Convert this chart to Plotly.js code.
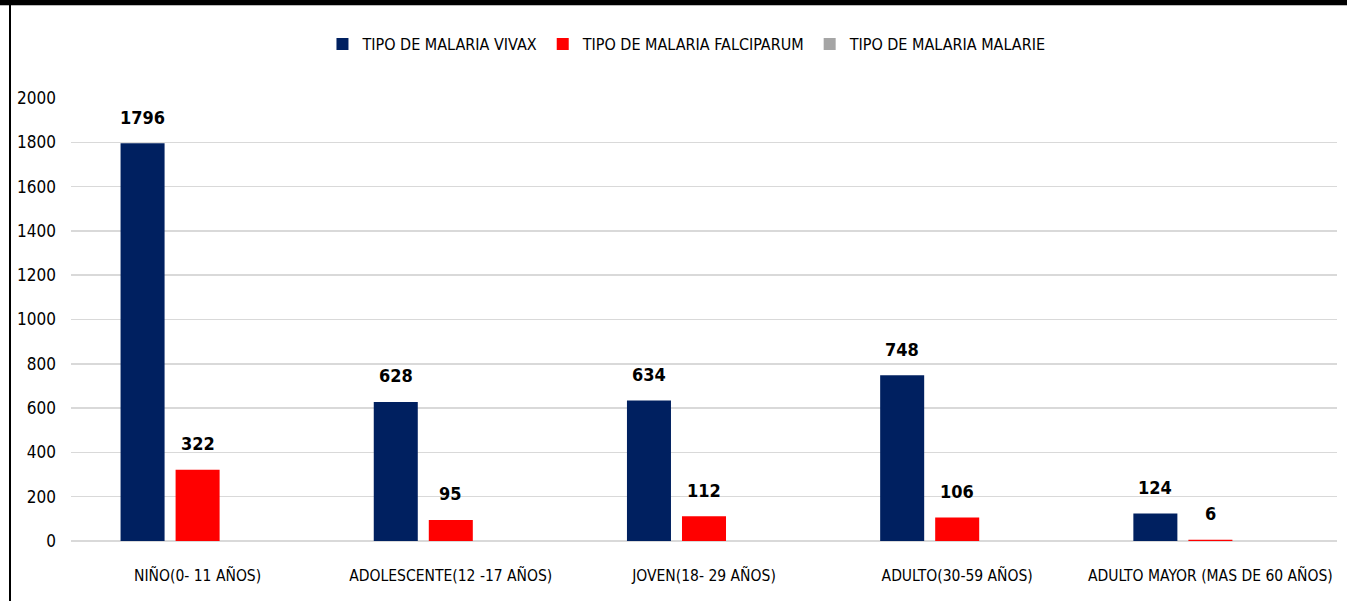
<!DOCTYPE html>
<html>
<head>
<meta charset="utf-8">
<script src="https://cdn.plot.ly/plotly-3.0.1.min.js"></script>
<style>
  html, body { margin: 0; padding: 0; background: #fff; }
  #wrap { position: relative; width: 1347px; height: 601px; overflow: hidden; }
  #chart { position: absolute; left: 0; top: 0; width: 1347px; height: 601px; }
  #topbar { position: absolute; left: 0; top: 0; width: 1347px; height: 5px; background: #000; }
  #topline { position: absolute; left: 0; top: 5px; width: 1347px; height: 1px; background: #bbb; }
  #leftline { position: absolute; left: 9px; top: 0; width: 2px; height: 601px; background: #000; }
</style>
</head>
<body>
<div id="wrap">
  <div id="chart"></div>
  <div id="topbar"></div>
  <div id="topline"></div>
  <div id="leftline"></div>
</div>
<script>
const categories = ["NIÑO(0- 11 AÑOS)", "ADOLESCENTE(12 -17 AÑOS)", "JOVEN(18- 29 AÑOS)", "ADULTO(30-59 AÑOS)", "ADULTO MAYOR (MAS DE 60 AÑOS)"];
const seriesNames = ["TIPO DE MALARIA VIVAX", "TIPO DE MALARIA FALCIPARUM", "TIPO DE MALARIA MALARIE"];
const vivax = [1796, 628, 634, 748, 124];
const falciparum = [322, 95, 112, 106, 6];
const malarie = [0, 0, 0, 0, 0];
const showLabel = [true, true, false];
const yTicks = [0, 200, 400, 600, 800, 1000, 1200, 1400, 1600, 1800, 2000];

const FONT = '"DejaVu Sans Condensed", "Liberation Sans", sans-serif';
const colors = ["#002060", "#FF0000", "#A5A5A5"];
const allSeries = [vivax, falciparum, malarie];

const traces = allSeries.map((vals, i) => ({
  type: 'bar',
  name: seriesNames[i],
  x: categories,
  y: vals,
  marker: { color: colors[i] },
  hoverinfo: 'x+y+name'
}));

const shifts = [-55, 0, 55];
const annotations = [];
allSeries.forEach((vals, i) => {
  if (!showLabel[i]) return;
  vals.forEach((v, j) => {
    annotations.push({
      x: categories[j], y: v, xref: 'x', yref: 'y',
      text: '<b>' + v + '</b>', showarrow: false,
      xshift: shifts[i], yshift: 26, yanchor: 'middle',
      font: { family: FONT, size: 18, color: '#000' }
    });
  });
});

const layout = {
  width: 1347, height: 601,
  margin: { l: 71, r: 10, t: 98, b: 60 },
  paper_bgcolor: '#fff', plot_bgcolor: '#fff',
  barmode: 'group', bargap: 0.348, bargroupgap: 0.2,
  showlegend: true,
  legend: {
    orientation: 'h', x: 0.51, xanchor: 'center', xref: 'container',
    y: 1 - 44 / 601, yref: 'container', yanchor: 'middle',
    font: { family: FONT, size: 16, color: '#000' },
    traceorder: 'normal', itemclick: false
  },
  xaxis: {
    type: 'category', showgrid: false, zeroline: false, showline: false,
    ticks: 'outside', ticklen: 20, tickcolor: 'rgba(0,0,0,0)',
    tickfont: { family: FONT, size: 15.5, color: '#000' }
  },
  yaxis: {
    range: [0, 2000], tickvals: yTicks, ticktext: yTicks.map(String),
    showgrid: true, gridcolor: '#D9D9D9', gridwidth: 1.5,
    zeroline: true, zerolinecolor: '#D9D9D9', zerolinewidth: 1.5,
    showline: false, ticks: '', ticklabelstandoff: 14,
    tickfont: { family: FONT, size: 17, color: '#000' }
  },
  annotations: annotations
};

Plotly.newPlot('chart', traces, layout, { displayModeBar: false, staticPlot: true });
</script>
</body>
</html>
